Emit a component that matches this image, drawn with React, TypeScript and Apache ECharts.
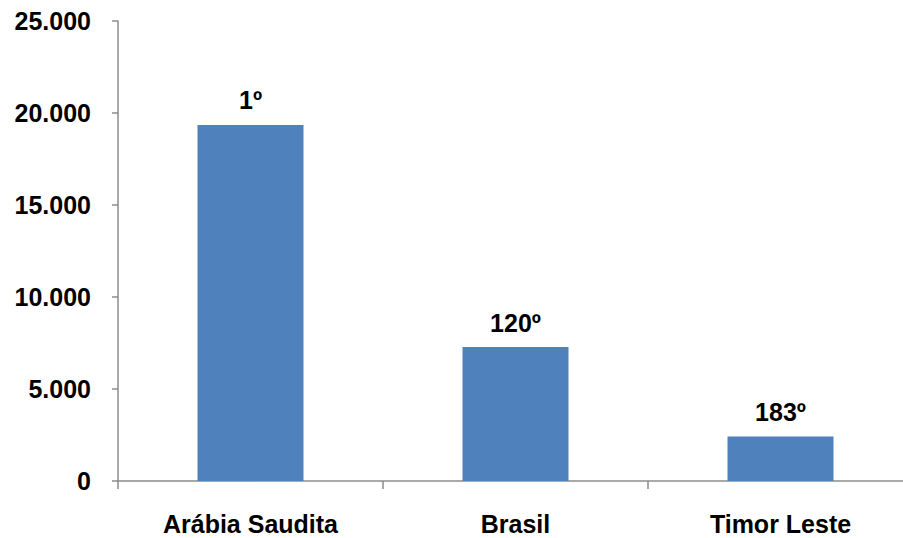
import React, { useEffect, useRef } from "react";
import * as echarts from "echarts";

const categories = ["Arábia Saudita", "Brasil", "Timor Leste"];
const values = [19350, 7280, 2420];
const rankLabels = ["1º", "120º", "183º"];
const yTicks = { min: 0, max: 25000, interval: 5000 };

const FONT = "'Liberation Sans', Arial, sans-serif";

function formatThousands(v: number): string {
  return String(v).replace(/\B(?=(\d{3})+(?!\d))/g, ".");
}

export default function App() {
  const ref = useRef<HTMLDivElement>(null);

  useEffect(() => {
    if (!ref.current) return;
    const chart = echarts.init(ref.current, null, { renderer: "svg" });
    chart.setOption({
      animation: false,
      backgroundColor: "#ffffff",
      grid: { left: 118, top: 21, height: 460, width: 795 },
      xAxis: {
        type: "category",
        data: categories,
        axisLine: { lineStyle: { color: "#8c8c8c", width: 1.5 } },
        axisTick: { show: true, length: 8, alignWithLabel: false, lineStyle: { color: "#8c8c8c", width: 1.5 } },
        axisLabel: {
          margin: 30,
          color: "#000",
          fontFamily: FONT,
          fontWeight: "bold",
          fontSize: 25,
        },
      },
      yAxis: {
        type: "value",
        min: yTicks.min,
        max: yTicks.max,
        interval: yTicks.interval,
        splitLine: { show: false },
        axisLine: { show: true, lineStyle: { color: "#8c8c8c", width: 1.5 } },
        axisTick: { show: true, length: 6, lineStyle: { color: "#8c8c8c", width: 1.5 } },
        axisLabel: {
          margin: 27,
          color: "#000",
          fontFamily: FONT,
          fontWeight: "bold",
          fontSize: 25,
          formatter: (v: number) => formatThousands(v),
        },
      },
      series: [
        {
          type: "bar",
          data: values,
          barWidth: "40%",
          itemStyle: { color: "#4f81bd" },
          label: {
            show: true,
            position: "top",
            distance: 12,
            color: "#000",
            fontFamily: FONT,
            fontWeight: "bold",
            fontSize: 25,
            formatter: (p: any) => rankLabels[p.dataIndex],
          },
        },
      ],
    });
    return () => chart.dispose();
  }, []);

  return (
    <div
      style={{
        position: "fixed",
        left: 0,
        top: 0,
        width: 903,
        height: 538,
        overflow: "hidden",
        background: "#fff",
      }}
    >
      <div ref={ref} style={{ width: 930, height: 538 }} />
    </div>
  );
}
